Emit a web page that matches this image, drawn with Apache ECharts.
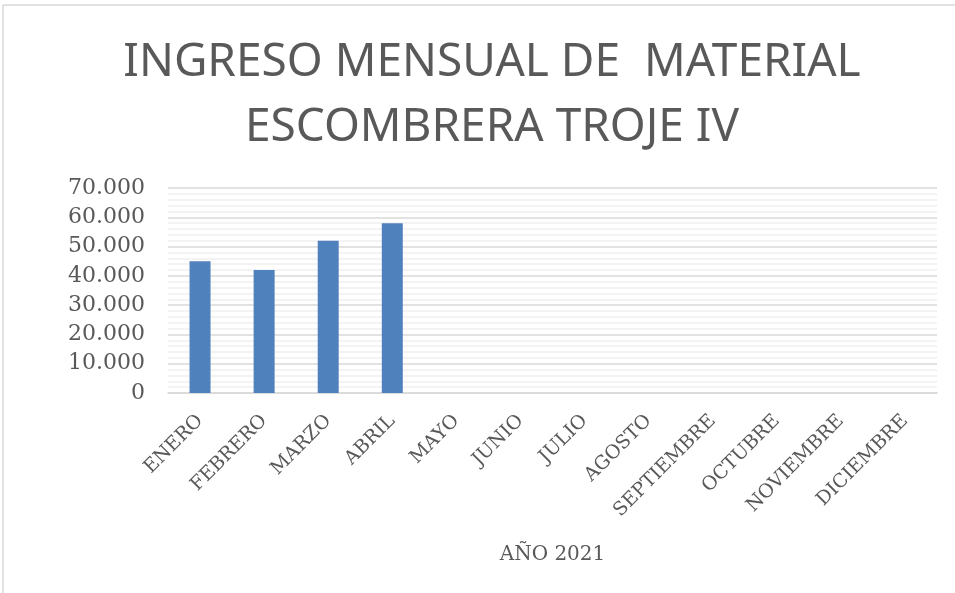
<!DOCTYPE html>
<html><head><meta charset="utf-8">
<script src="https://cdn.jsdelivr.net/npm/echarts@6/dist/echarts.min.js"></script>
<style>html,body{margin:0;padding:0;background:#fff}#c{width:955px;height:593px}</style>
</head><body><div id="c"></div>
<script>
var months = ['ENERO','FEBRERO','MARZO','ABRIL','MAYO','JUNIO','JULIO','AGOSTO','SEPTIEMBRE','OCTUBRE','NOVIEMBRE','DICIEMBRE'];
var ingreso = [45000, 42000, 52000, 58000, null, null, null, null, null, null, null, null];
var titleText = 'INGRESO MENSUAL DE  MATERIAL\nESCOMBRERA TROJE IV';
var axisName = 'AÑO 2021';

var chart = echarts.init(document.getElementById('c'), null, {renderer:'canvas'});
function fmt(v){ return String(v).replace(/\B(?=(\d{3})+(?!\d))/g, '.'); }
chart.setOption({
  animation:false,
  title:{text:titleText,left:'center',top:25,
    textStyle:{fontFamily:'Noto Sans',fontSize:46,fontWeight:'normal',color:'#595959',lineHeight:65}},
  graphic:[
    {type:'line',shape:{x1:3,y1:5,x2:955,y2:5},style:{stroke:'#d9d9d9',lineWidth:1.5}},
    {type:'line',shape:{x1:3,y1:5,x2:3,y2:593},style:{stroke:'#d9d9d9',lineWidth:1.5}}
  ],
  grid:{left:168,right:18,top:188,bottom:200},
  xAxis:{type:'category',data:months,
    axisLine:{show:true,lineStyle:{color:'#d9d9d9',width:1.5}},
    axisTick:{show:false},
    axisLabel:{rotate:45,margin:25,interval:0,fontFamily:'DejaVu Serif',fontSize:19,color:'#595959'},
    name:axisName,nameLocation:'middle',nameGap:152,
    nameTextStyle:{fontFamily:'DejaVu Serif',fontSize:20,color:'#595959'}},
  yAxis:{type:'value',min:0,max:70000,interval:10000,
    axisLine:{show:false},axisTick:{show:false},
    axisLabel:{formatter:fmt,margin:23,fontFamily:'DejaVu Serif',fontSize:22,color:'#595959'},
    splitLine:{lineStyle:{color:'#d9d9d9',width:1.5}},
    minorTick:{show:false,splitNumber:5},
    minorSplitLine:{show:true,lineStyle:{color:'#f0f0f0',width:1.5}}},
  series:[{type:'bar',data:ingreso,barWidth:21,itemStyle:{color:'#4f81bd'}}]
});
chart.setOption({title:{left:487,textAlign:'center'}});
</script></body></html>
